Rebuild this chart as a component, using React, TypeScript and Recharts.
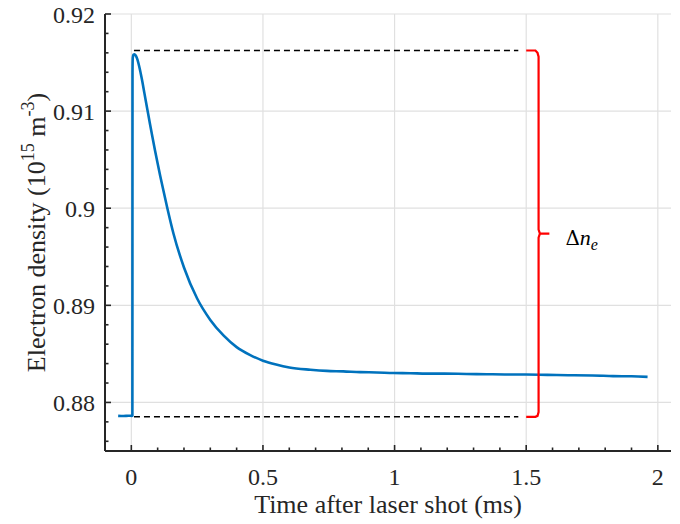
import { LineChart, Line, XAxis, YAxis, CartesianGrid, ReferenceDot, Label } from 'recharts'

// measured trace (time in ms, density in 1e15 m^-3)
const TIME_MS = [
  -0.05, -0.03, -0.01, 0.002, 0.004, 0.0045, 0.0055, 0.008, 0.012, 0.016, 0.022, 0.03, 0.04, 0.05,
  0.06, 0.07, 0.08, 0.09, 0.1, 0.11, 0.12, 0.136, 0.16, 0.2, 0.25, 0.3, 0.35, 0.4, 0.45, 0.5, 0.55,
  0.6, 0.68, 0.742, 0.805, 0.869, 0.932, 0.995, 1.06, 1.121, 1.19, 1.273, 1.35, 1.42, 1.5, 1.58,
  1.66, 1.752, 1.83, 1.9, 1.961,
]
const DENSITY = [
  0.87862, 0.8786, 0.87863, 0.87862, 0.87865, 0.914, 0.9155, 0.91582, 0.91585, 0.91575, 0.9154,
  0.9146, 0.9133, 0.9118, 0.9103, 0.9088, 0.90735, 0.90595, 0.9046, 0.9033, 0.90205, 0.9001, 0.8974,
  0.8939, 0.8907, 0.8885, 0.8869, 0.8857, 0.8849, 0.8843, 0.8839, 0.8836, 0.88337, 0.88325, 0.8832,
  0.88312, 0.88309, 0.88303, 0.88301, 0.88297, 0.88297, 0.88293, 0.88291, 0.88288, 0.88287, 0.88284,
  0.8828, 0.88278, 0.88271, 0.88269, 0.88263,
]

// dashed guide levels
const GUIDE_T = [0.01, 1.47]
const PEAK_LEVEL = 0.91624
const BASE_LEVEL = 0.87852

// bracket outline
const BRACKET_T = [1.5, 1.535, 1.543, 1.547, 1.547, 1.552, 1.588, 1.552, 1.547, 1.547, 1.543, 1.535, 1.5]
const BRACKET_N = [
  0.91624, 0.91624, 0.9160, 0.9156, 0.8978, 0.89738, 0.89738, 0.89738, 0.89696, 0.8790, 0.87862,
  0.87852, 0.87852,
]

const X_TICKS = [0, 0.1, 0.2, 0.3, 0.4, 0.5, 0.6, 0.7, 0.8, 0.9, 1, 1.1, 1.2, 1.3, 1.4, 1.5, 1.6, 1.7, 1.8, 1.9, 2]
const X_MAJOR = [0, 0.5, 1, 1.5, 2]
const Y_TICKS = [
  0.876, 0.878, 0.88, 0.882, 0.884, 0.886, 0.888, 0.89, 0.892, 0.894, 0.896, 0.898, 0.9, 0.902,
  0.904, 0.906, 0.908, 0.91, 0.912, 0.914, 0.916, 0.918, 0.92,
]
const Y_MAJOR = [0.88, 0.89, 0.9, 0.91, 0.92]

const trace = TIME_MS.map((x, i) => ({ x, y: DENSITY[i] }))
const peakGuide = GUIDE_T.map(x => ({ x, y: PEAK_LEVEL }))
const baseGuide = GUIDE_T.map(x => ({ x, y: BASE_LEVEL }))
const bracket = BRACKET_T.map((x, i) => ({ x, y: BRACKET_N[i] }))

const FONT = '"Liberation Serif", "Times New Roman", serif'
const INK = '#262626'

const isMajor = (v: number, list: number[]) => list.some(m => Math.abs(m - v) < 1e-9)
const fmt = (v: number) => String(Number(v.toFixed(3)))

// tick drawn inward, MATLAB style
const makeTick = (side: 'bottom' | 'top' | 'left' | 'right') => (props: any) => {
  const { x, y, payload } = props
  const v = payload.value
  const major = isMajor(v, side === 'bottom' || side === 'top' ? X_MAJOR : Y_MAJOR)
  const len = major ? 6 : 3.5
  let line
  if (side === 'bottom') line = <line x1={x} x2={x} y1={y} y2={y - len} />
  else if (side === 'top') line = <line x1={x} x2={x} y1={y} y2={y + len} />
  else if (side === 'left') line = <line x1={x} x2={x + len} y1={y} y2={y} />
  else line = <line x1={x} x2={x - len} y1={y} y2={y} />
  const textStyle = { fontFamily: FONT, fontSize: 24 }
  return (
    <g stroke={INK} strokeWidth={1.6}>
      {line}
      {major && side === 'bottom' && (
        <text x={x} y={y + 34} textAnchor="middle" fill={INK} stroke="none" style={textStyle}>
          {fmt(v)}
        </text>
      )}
      {major && side === 'left' && (
        <text x={x - 10} y={y + 9} textAnchor="end" fill={INK} stroke="none" style={textStyle}>
          {fmt(v)}
        </text>
      )}
    </g>
  )
}

const XTitle = ({ viewBox }: any) => (
  <text
    x={viewBox.x + viewBox.width / 2}
    y={viewBox.y + 62}
    textAnchor="middle"
    fill={INK}
    style={{ fontFamily: FONT, fontSize: 26 }}
  >
    Time after laser shot (ms)
  </text>
)

const YTitle = ({ viewBox }: any) => {
  const cx = 45
  const cy = viewBox.y + viewBox.height / 2
  return (
    <text
      transform={`translate(${cx},${cy}) rotate(-90)`}
      textAnchor="middle"
      fill={INK}
      style={{ fontFamily: FONT, fontSize: 26 }}
    >
      Electron density (10
      <tspan fontSize={18} dy={-11}>15</tspan>
      <tspan dy={11}> m</tspan>
      <tspan fontSize={18} dy={-11}>-3</tspan>
      <tspan dy={11}>)</tspan>
    </text>
  )
}

const DeltaLabel = ({ viewBox }: any) => {
  const x = viewBox.x + 16
  const y = viewBox.y + 11
  return (
    <text x={x} y={y} fill="#000" fontSize={20} fontFamily='"DejaVu Serif", serif'>
      Δ
      <tspan fontStyle="italic" fontFamily={FONT} fontSize={22}>n</tspan>
      <tspan fontStyle="italic" fontFamily={FONT} fontSize={16} dy={5}>e</tspan>
    </text>
  )
}

export default function App() {
  return (
    <div style={{ position: 'absolute', left: 0, top: 0, background: '#fff' }}>
      <LineChart width={680} height={524} margin={{ top: 14, right: 9, bottom: 0, left: 0 }}>
        <CartesianGrid
          stroke="#e0e0e0"
          strokeWidth={1.2}
          verticalValues={X_MAJOR}
          horizontalValues={Y_MAJOR}
        />
        <XAxis
          dataKey="x"
          type="number"
          domain={[-0.1, 2.05]}
          allowDataOverflow
          ticks={X_TICKS}
          interval={0}
          height={73}
          tickSize={0}
          tickMargin={0}
          tickLine={false}
          tick={makeTick('bottom')}
          axisLine={{ stroke: INK, strokeWidth: 2 }}
        >
          <Label content={<XTitle />} />
        </XAxis>
        <XAxis
          xAxisId="top"
          orientation="top"
          type="number"
          domain={[-0.1, 2.05]}
          allowDataOverflow
          ticks={X_TICKS}
          interval={0}
          height={0}
          tickSize={0}
          tickMargin={0}
          tickLine={false}
          tick={makeTick('top')}
          axisLine={{ stroke: INK, strokeWidth: 2 }}
        />
        <YAxis
          type="number"
          domain={[0.875, 0.92]}
          allowDataOverflow
          ticks={Y_TICKS}
          interval={0}
          width={105}
          tickSize={0}
          tickMargin={0}
          tickLine={false}
          tick={makeTick('left')}
          axisLine={{ stroke: INK, strokeWidth: 2 }}
        >
          <Label content={<YTitle />} />
        </YAxis>
        <YAxis
          yAxisId="right"
          orientation="right"
          type="number"
          domain={[0.875, 0.92]}
          allowDataOverflow
          ticks={Y_TICKS}
          interval={0}
          width={0}
          tickSize={0}
          tickMargin={0}
          tickLine={false}
          tick={makeTick('right')}
          axisLine={{ stroke: INK, strokeWidth: 2 }}
        />
        <Line
          data={peakGuide}
          dataKey="y"
          stroke="#000"
          strokeWidth={1.6}
          strokeDasharray="6 4"
          dot={false}
          isAnimationActive={false}
        />
        <Line
          data={baseGuide}
          dataKey="y"
          stroke="#000"
          strokeWidth={1.6}
          strokeDasharray="6 4"
          dot={false}
          isAnimationActive={false}
        />
        <Line
          data={trace}
          dataKey="y"
          type="monotone"
          stroke="#0072BD"
          strokeWidth={2.6}
          dot={false}
          isAnimationActive={false}
        />
        <Line
          data={bracket}
          dataKey="y"
          type="linear"
          stroke="#FF0000"
          strokeWidth={2.2}
          dot={false}
          isAnimationActive={false}
        />
        <ReferenceDot
          x={1.588}
          y={0.89738}
          r={0}
          fill="none"
          stroke="none"
          ifOverflow="visible"
          label={<DeltaLabel />}
        />
      </LineChart>
    </div>
  )
}
